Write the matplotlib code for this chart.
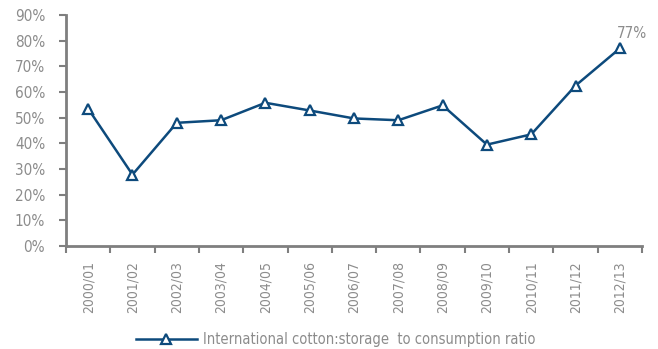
import numpy as np
import matplotlib.pyplot as plt
from matplotlib.ticker import FixedLocator, PercentFormatter

# Cotton storage-to-consumption ratio by season
seasons = ["2000/01", "2001/02", "2002/03", "2003/04", "2004/05", "2005/06", "2006/07",
           "2007/08", "2008/09", "2009/10", "2010/11", "2011/12", "2012/13"]
ratio = [53.5, 27.8, 48.0, 49.0, 55.8, 52.8, 49.7, 49.0, 54.8, 39.5, 43.5, 62.5, 77.0]
series_name = "International cotton:storage  to consumption ratio"

plt.rcParams['font.family'] = ['DejaVu Sans']
plt.rcParams['font.stretch'] = 'condensed'
grey = '#8c8c8c'
axis_grey = '#7f7f7f'
blue = '#0d4a7c'

fig = plt.figure(figsize=(6.58, 3.49), dpi=100)
ax = fig.add_axes([0.1003, 0.2951, 0.8754, 0.6619])

x = np.arange(len(seasons))
ax.plot(x, ratio, '-', color=blue, lw=1.8, marker='^', ms=7, mfc='white',
        mec=blue, mew=1.6, label=series_name)
ax.annotate(f"{ratio[-1]:.0f}%", (x[-1], ratio[-1]), xytext=(-2, 5),
            textcoords='offset points', ha='left', va='bottom', color=grey, fontsize=11)

ax.set_xlim(-0.5, len(seasons) - 0.5)
ax.set_ylim(0, 90)
ax.set_yticks(np.arange(0, 91, 10))
ax.yaxis.set_major_formatter(PercentFormatter(decimals=0))

# category labels at centres, tick marks on the boundaries
ax.set_xticks(x)
ax.set_xticklabels(seasons, rotation=90)
ax.xaxis.set_minor_locator(FixedLocator(np.arange(-0.5, len(seasons), 1)))
ax.tick_params(axis='x', which='major', length=0, pad=11, labelsize=10)
ax.tick_params(axis='x', which='minor', length=5, width=1.5, color=axis_grey)
ax.tick_params(axis='y', length=5, width=1.5, color=axis_grey, pad=10, labelsize=11)
ax.tick_params(labelcolor=grey)

for side in ['top', 'right']:
    ax.spines[side].set_visible(False)
for side in ['left', 'bottom']:
    ax.spines[side].set_color(axis_grey)
    ax.spines[side].set_linewidth(2)

fig.legend(loc='center', bbox_to_anchor=(0.51, 0.027), frameon=False, fontsize=10.5,
           labelcolor=grey, handlelength=4.2, handletextpad=0.4)

plt.savefig('out.png', dpi=100)
